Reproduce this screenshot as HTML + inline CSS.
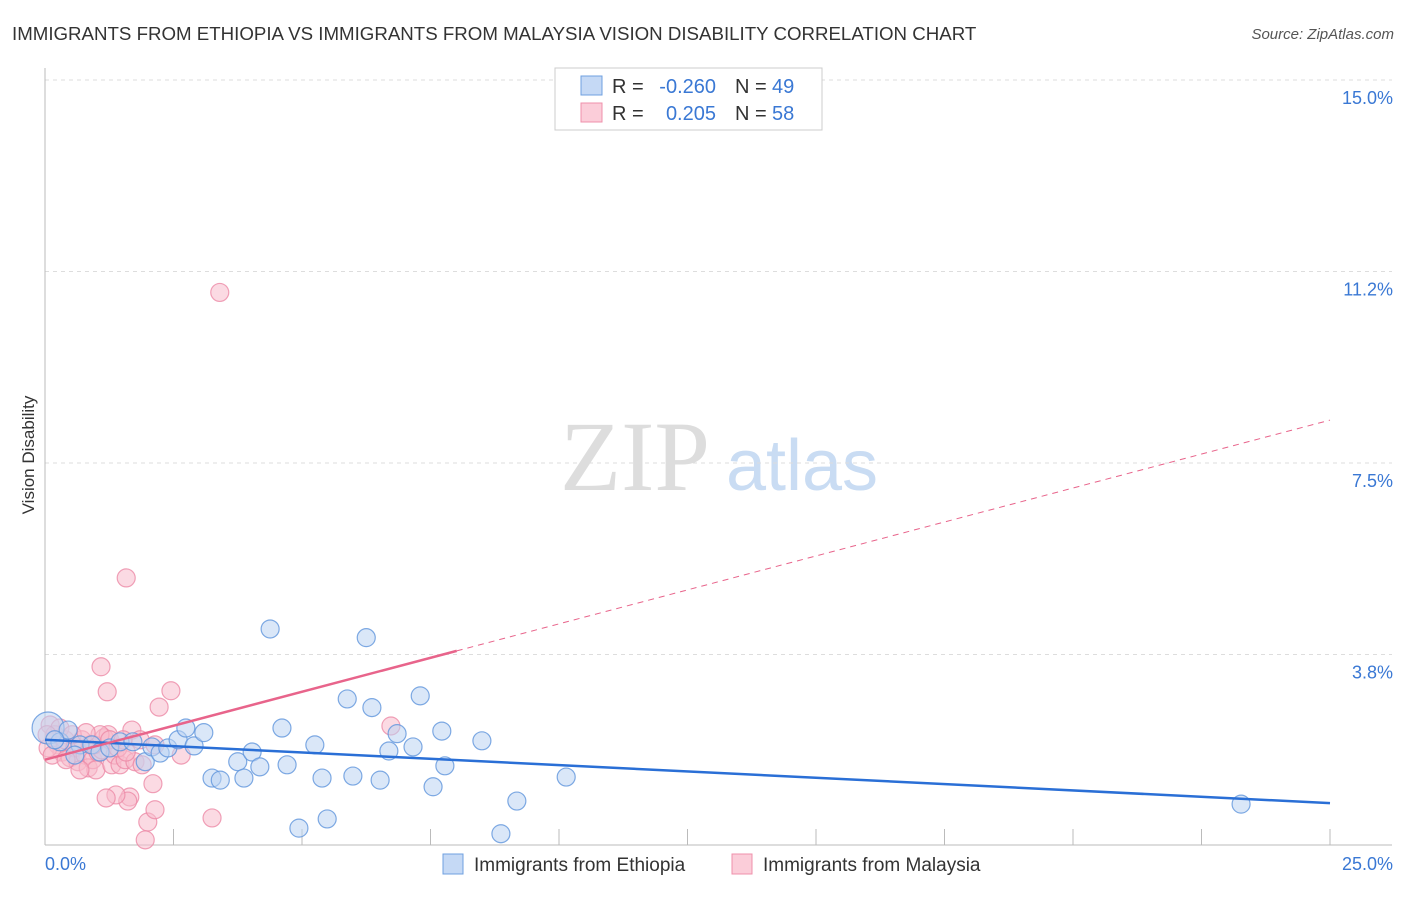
<!DOCTYPE html>
<html><head><meta charset="utf-8"><style>
body{margin:0;background:#fff;font-family:"Liberation Sans",sans-serif;}
</style></head><body>
<svg id="chart" width="1406" height="892" xmlns="http://www.w3.org/2000/svg" font-family="Liberation Sans, sans-serif">
<text x="12" y="40" font-size="18.7" fill="#333">IMMIGRANTS FROM ETHIOPIA VS IMMIGRANTS FROM MALAYSIA VISION DISABILITY CORRELATION CHART</text>
<text x="1394" y="39" font-size="15" fill="#555" text-anchor="end" font-style="italic">Source: ZipAtlas.com</text>
<g>
<text x="635" y="490" font-size="100" fill="#ddd" font-family="Liberation Serif, serif" text-anchor="middle">ZIP</text>
<text x="802" y="490" font-size="72" fill="#c9dcf3" text-anchor="middle">atlas</text>
</g>
<g id="grid"></g>
<g id="axes"></g>
<g id="marks"></g>
<text transform="translate(34,455) rotate(-90)" font-size="17" fill="#333" text-anchor="middle">Vision Disability</text>
<g>
<rect x="555" y="68" width="267" height="62" fill="#fff" stroke="#ccc"/>
<rect x="581" y="76" width="21" height="19" fill="#c5d9f5" stroke="#6fa0e0"/>
<rect x="581" y="103" width="21" height="19" fill="#fbcdd9" stroke="#ef90ab"/>
<text x="612" y="93" font-size="20" fill="#333">R =</text>
<text x="716" y="93" font-size="20" fill="#3a78d4" text-anchor="end">-0.260</text>
<text x="735" y="93" font-size="20" fill="#333">N =</text>
<text x="772" y="93" font-size="20" fill="#3a78d4">49</text>
<text x="612" y="120" font-size="20" fill="#333">R =</text>
<text x="716" y="120" font-size="20" fill="#3a78d4" text-anchor="end">0.205</text>
<text x="735" y="120" font-size="20" fill="#333">N =</text>
<text x="772" y="120" font-size="20" fill="#3a78d4">58</text>
</g>
<g>
<rect x="443" y="854" width="20" height="20" fill="#c5d9f5" stroke="#6fa0e0"/>
<text x="474" y="871" font-size="19" fill="#333">Immigrants from Ethiopia</text>
<rect x="732" y="854" width="20" height="20" fill="#fbcdd9" stroke="#ef90ab"/>
<text x="763" y="871" font-size="19" fill="#333">Immigrants from Malaysia</text>
</g>
</svg>
<script>
const yTicks=[15.0,11.2,7.5,3.8];
const yTickVals=[15,11.25,7.5,3.75];
const xTickLabels=["0.0%","25.0%"];
const ethX=[0.06,0.29,0.45,0.68,0.91,1.07,1.26,1.46,1.71,1.95,2.08,2.24,2.39,2.59,2.74,2.90,3.09,3.25,3.41,3.75,3.87,4.03,4.18,4.38,4.61,4.71,4.94,5.25,5.39,5.49,5.88,5.99,6.25,6.36,6.52,6.69,6.85,7.16,7.30,7.55,7.72,7.78,8.50,9.18,10.14,23.27,0.19,0.58,8.87];
const ethY=[2.31,2.04,2.27,1.98,1.98,1.84,1.92,2.04,2.04,1.65,1.94,1.82,1.92,2.08,2.31,1.96,2.22,1.33,1.29,1.65,1.33,1.84,1.55,4.25,2.31,1.59,0.35,1.98,1.33,0.53,2.88,1.37,4.08,2.71,1.29,1.86,2.20,1.94,2.94,1.16,2.25,1.57,2.06,0.88,1.35,0.82,2.08,1.78,0.24];
const malX=[3.40,1.58,1.09,1.21,2.45,2.22,6.73,2.10,3.25,2.00,1.95,1.65,1.61,1.38,1.19,2.14,0.10,0.19,0.25,0.33,0.39,0.49,0.58,0.64,0.72,0.78,0.84,0.88,0.93,0.99,1.03,1.11,1.15,1.23,1.30,1.36,1.46,1.56,1.69,1.75,1.85,0.29,0.06,0.14,0.53,0.68,0.95,1.07,1.26,1.42,2.65,1.52,0.80,0.41,1.89,2.14,1.58,0.04];
const malY=[10.84,5.25,3.51,3.02,3.04,2.72,2.35,1.22,0.55,0.47,0.12,0.96,0.88,1.00,0.94,0.71,2.37,2.18,1.98,1.84,2.08,1.73,1.92,1.65,2.08,1.78,1.53,1.98,1.69,1.49,1.84,1.88,2.12,2.18,1.59,1.78,1.59,1.69,2.27,1.65,2.08,2.31,1.92,1.78,2.18,1.49,1.98,2.18,2.08,1.92,1.78,2.08,2.22,1.69,1.59,1.98,1.84,2.18];
const ethTrend=[2.08,-0.0496];
const malTrend=[1.69,0.266];
const malSolidEnd=8.01;
const NS="http://www.w3.org/2000/svg";
const X=v=>45+v/25*1285, Y=v=>846-v/15*766;
function mk(t,a,p){const e=document.createElementNS(NS,t);for(const k in a)e.setAttribute(k,a[k]);p.appendChild(e);return e;}
const grid=document.getElementById('grid'),axes=document.getElementById('axes'),marks=document.getElementById('marks');
yTickVals.forEach((v,i)=>{
 const l=mk('line',{x1:45,x2:1392,y1:Y(v),y2:Y(v),stroke:'#ddd','stroke-dasharray':'4,4'},grid);
 
 
 const t=mk('text',{x:1393,y:Y(v)+24,'font-size':18,fill:'#3a78d4','text-anchor':'end'},axes);
 t.textContent=yTicks[i].toFixed(1)+'%';
 
 
});
const ya=mk('line',{x1:45,x2:45,y1:68,y2:845,stroke:'#bbb'},axes);


const xa=mk('line',{x1:45,x2:1392,y1:845,y2:845,stroke:'#bbb'},axes);


for(let i=0;i<=10;i++){const tk=mk('line',{x1:X(i*2.5),x2:X(i*2.5),y1:829,y2:845,stroke:'#bbb'},axes);
 
 }
[[45,'start'],[1393,'end']].forEach((p,i)=>{const t=mk('text',{x:p[0],y:870,'font-size':18,fill:'#3a78d4','text-anchor':p[1]},axes);t.textContent=xTickLabels[i];
 
 });
function pts(xs,ys,fill,stroke,name){xs.forEach((x,i)=>{const r=(i===0&&name==='ethiopia-point')?16:9;
 const c=mk('circle',{cx:X(x),cy:Y(ys[i]),r:r,fill:fill,'fill-opacity':0.55,stroke:stroke,'stroke-opacity':0.8,'stroke-width':1.2},marks);
 
 });}
pts(malX,malY,'#f8bccc','#ec8aa6','malaysia-point');
pts(ethX,ethY,'#bcd4f3','#5f95dc','ethiopia-point');
const bt=mk('line',{x1:X(0),y1:Y(ethTrend[0]),x2:X(25),y2:Y(ethTrend[0]+ethTrend[1]*25),stroke:'#2a6fd6','stroke-width':2.5},marks);


const pt=mk('line',{x1:X(0),y1:Y(malTrend[0]),x2:X(malSolidEnd),y2:Y(malTrend[0]+malTrend[1]*malSolidEnd),stroke:'#e8648b','stroke-width':2.5},marks);


const pd=mk('line',{x1:X(malSolidEnd),y1:Y(malTrend[0]+malTrend[1]*malSolidEnd),x2:X(25),y2:Y(malTrend[0]+malTrend[1]*25),stroke:'#e8648b','stroke-width':1,'stroke-dasharray':'6,5'},marks);


</script>
</body></html>
